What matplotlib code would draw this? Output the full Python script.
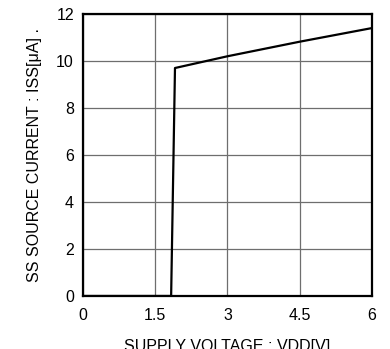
import matplotlib
matplotlib.use("Agg")
import matplotlib.pyplot as plt

plt.rcParams['font.family'] = ['Liberation Sans', 'DejaVu Sans']

# supply voltage [V] and SS source current [uA]
vdd = [0.0, 1.83, 1.91, 3.0, 4.5, 6.0]
iss = [0.0, 0.0, 9.7, 10.2, 10.82, 11.4]

xticks = [0, 1.5, 3, 4.5, 6]
xticklabels = ['0', '1.5', '3', '4.5', '6']
yticks = [0, 2, 4, 6, 8, 10, 12]

fig = plt.figure(figsize=(3.9, 3.49), dpi=100)
ax = fig.add_axes([0.2128, 0.1519, 0.7410, 0.8081])

ax.plot(vdd, iss, color='black', lw=1.6, zorder=3)

ax.set_xlim(0, 6)
ax.set_ylim(0, 12)
ax.set_xticks(xticks)
ax.set_xticklabels(xticklabels)
ax.set_yticks(yticks)
ax.grid(True, color='#6e6e6e', lw=0.9)
ax.tick_params(length=0, labelsize=11.5)
ax.tick_params(axis='x', pad=9)
ax.tick_params(axis='y', pad=6.5)
for s in ax.spines.values():
    s.set_linewidth(1.6)

ax.set_xlabel('SUPPLY VOLTAGE : VDD[V]', fontsize=11.5, labelpad=11)
ax.set_ylabel('SS SOURCE CURRENT : ISS[\u03bcA] .', fontsize=11.5, labelpad=10)

fig.savefig('out.png', dpi=100)
